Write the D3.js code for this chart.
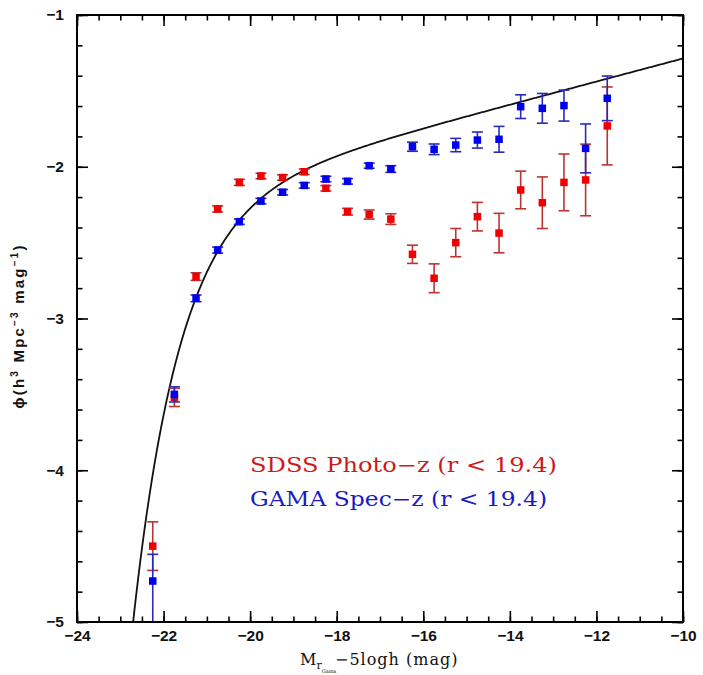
<!DOCTYPE html>
<html>
<head>
<meta charset="utf-8">
<script src="https://cdn.jsdelivr.net/npm/d3@7"></script>
<style>
  html, body { margin: 0; padding: 0; background: #fff; }
  svg { display: block; }
</style>
</head>
<body>
<svg id="chart" width="703" height="675"></svg>
<script>
// Absolute magnitude bin centres (mag)
const magBins = [-22.25, -21.75, -21.25, -20.75, -20.25, -19.75, -19.25, -18.75, -18.25, -17.75, -17.25,
                 -16.75, -16.25, -15.75, -15.25, -14.75, -14.25, -13.75, -13.25, -12.75, -12.25, -11.75];

// SDSS photometric-redshift luminosity function: log10 phi and 1-sigma errors (dex)
const sdssLogPhi = [-4.50, -3.52, -2.724, -2.278, -2.103, -2.061, -2.071, -2.033, -2.142, -2.296, -2.315,
                    -2.345, -2.577, -2.735, -2.500, -2.329, -2.437, -2.153, -2.237, -2.103, -2.087, -1.731];
const sdssErr    = [0.16, 0.06, 0.025, 0.02, 0.02, 0.018, 0.018, 0.018, 0.018, 0.022, 0.03,
                    0.035, 0.06, 0.095, 0.093, 0.094, 0.13, 0.124, 0.17, 0.187, 0.236, 0.257];

// GAMA spectroscopic luminosity function: log10 phi, upper and lower errors (dex)
const gamaLogPhi = [-4.73, -3.50, -2.867, -2.549, -2.362, -2.226, -2.168, -2.123, -2.081, -2.096, -1.993,
                    -2.015, -1.868, -1.885, -1.857, -1.824, -1.819, -1.604, -1.615, -1.597, -1.879, -1.549];
const gamaErrHi  = [0.176, 0.05, 0.022, 0.02, 0.018, 0.018, 0.018, 0.018, 0.018, 0.018, 0.017,
                    0.022, 0.03, 0.035, 0.044, 0.053, 0.085, 0.078, 0.098, 0.102, 0.161, 0.147];
const gamaErrLo  = [0.60, 0.05, 0.022, 0.02, 0.018, 0.018, 0.018, 0.018, 0.018, 0.018, 0.017,
                    0.022, 0.03, 0.035, 0.044, 0.053, 0.085, 0.078, 0.098, 0.102, 0.161, 0.147];

// Schechter function fit
const mStar = -20.7;
const alpha = -1.19;
const phiStar = 0.00863;

// Axis ticks
const xMajorTicks = [-24, -22, -20, -18, -16, -14, -12, -10];
const yMajorTicks = [-5, -4, -3, -2, -1];

const legendLabels = ["SDSS Photo\u2212z (r < 19.4)", "GAMA Spec\u2212z (r < 19.4)"];

const svg = d3.select("#chart");
const pLeft = 77, pRight = 683, pTop = 15, pBottom = 622;

const x = d3.scaleLinear().domain([-24, -10]).range([pLeft, pRight]);
const y = d3.scaleLinear().domain([-5, -1]).range([pBottom, pTop]);

const defs = svg.append("defs");
defs.append("clipPath").attr("id", "plotArea")
  .append("rect").attr("x", pLeft).attr("y", pTop)
  .attr("width", pRight - pLeft).attr("height", pBottom - pTop);

const plot = svg.append("g").attr("clip-path", "url(#plotArea)");

// Schechter curve, log10 phi(M)
function logSchechter(M) {
  const t = Math.pow(10, 0.4 * (mStar - M));
  return Math.log10(0.4 * Math.LN10 * phiStar * Math.pow(t, alpha + 1) * Math.exp(-t));
}
const curveMags = d3.range(-22.9, -9.99, 0.02);
plot.append("path")
  .datum(curveMags)
  .attr("fill", "none")
  .attr("stroke", "#111")
  .attr("stroke-width", 1.8)
  .attr("d", d3.line().x(m => x(m)).y(m => y(Math.max(logSchechter(m), -6))));

// Error bars + square markers
function drawSeries(vals, errHi, errLo, barColor, markColor) {
  const g = plot.append("g");
  const cap = 5.5, sq = 7.5;
  magBins.forEach((m, i) => {
    const cx = x(m);
    const yHi = y(vals[i] + errHi[i]);
    const yLo = y(vals[i] - errLo[i]);
    g.append("line").attr("x1", cx).attr("x2", cx).attr("y1", yHi).attr("y2", yLo)
      .attr("stroke", barColor).attr("stroke-width", 1.6);
    [yHi, yLo].forEach(yy => {
      g.append("line").attr("x1", cx - cap).attr("x2", cx + cap).attr("y1", yy).attr("y2", yy)
        .attr("stroke", barColor).attr("stroke-width", 1.6);
    });
    g.append("rect").attr("x", cx - sq / 2).attr("y", y(vals[i]) - sq / 2)
      .attr("width", sq).attr("height", sq).attr("fill", markColor);
  });
}
drawSeries(sdssLogPhi, sdssErr, sdssErr, "#bb3333", "#f00000");
drawSeries(gamaLogPhi, gamaErrHi, gamaErrLo, "#2a2ab8", "#0000f0");

// Axes with inward ticks on all four sides
const tickFont = "Liberation Sans, Arial, sans-serif";
const fmt = d3.format("d");

function styleAxis(g) {
  g.select(".domain").remove();
  g.selectAll(".tick line").attr("stroke", "#000").attr("stroke-width", 1.6);
  g.selectAll("text").attr("font-family", tickFont).attr("font-size", 15.5)
    .attr("font-weight", "bold").attr("fill", "#111");
}

const xMinor = d3.range(-24, -9.99, 0.5);
const yMinor = d3.range(-5, -0.99, 0.2).map(v => +v.toFixed(2));

svg.append("g").attr("transform", `translate(0,${pBottom})`)
  .call(d3.axisBottom(x).tickValues(xMinor).tickSize(-5.5).tickFormat("")).call(styleAxis);
svg.append("g").attr("transform", `translate(0,${pBottom})`)
  .call(d3.axisBottom(x).tickValues(xMajorTicks).tickSize(-11).tickPadding(8).tickFormat(fmt)).call(styleAxis);
svg.append("g").attr("transform", `translate(0,${pTop})`)
  .call(d3.axisTop(x).tickValues(xMinor).tickSize(-5.5).tickFormat("")).call(styleAxis);
svg.append("g").attr("transform", `translate(0,${pTop})`)
  .call(d3.axisTop(x).tickValues(xMajorTicks).tickSize(-11).tickFormat("")).call(styleAxis);

svg.append("g").attr("transform", `translate(${pLeft},0)`)
  .call(d3.axisLeft(y).tickValues(yMinor).tickSize(-5.5).tickFormat("")).call(styleAxis);
svg.append("g").attr("transform", `translate(${pLeft},0)`)
  .call(d3.axisLeft(y).tickValues(yMajorTicks).tickSize(-11).tickPadding(13).tickFormat(fmt)).call(styleAxis);
svg.append("g").attr("transform", `translate(${pRight},0)`)
  .call(d3.axisRight(y).tickValues(yMinor).tickSize(-5.5).tickFormat("")).call(styleAxis);
svg.append("g").attr("transform", `translate(${pRight},0)`)
  .call(d3.axisRight(y).tickValues(yMajorTicks).tickSize(-11).tickFormat("")).call(styleAxis);

// Frame
svg.append("rect").attr("x", pLeft).attr("y", pTop)
  .attr("width", pRight - pLeft).attr("height", pBottom - pTop)
  .attr("fill", "none").attr("stroke", "#000").attr("stroke-width", 2);

// Axis titles
const serif = "DejaVu Serif, Liberation Serif, serif";
const xt = svg.append("text").attr("x", 300).attr("y", 665)
  .attr("font-family", serif).attr("font-size", 16).attr("fill", "#111");
xt.append("tspan").text("M");
xt.append("tspan").attr("font-size", 11).attr("dy", 4).text("r");
xt.append("tspan").attr("font-size", 5).attr("dy", 4).text("Gama");
xt.append("tspan").attr("x", 335).attr("dy", -8).attr("letter-spacing", 1).text("\u22125logh (mag)");

const yt = svg.append("text")
  .attr("transform", "translate(24,326) rotate(-90)")
  .attr("text-anchor", "middle")
  .attr("font-family", tickFont).attr("font-size", 15).attr("font-weight", "bold")
  .attr("letter-spacing", 2.2).attr("fill", "#111");
yt.append("tspan").text("\u03d5(h");
yt.append("tspan").attr("font-size", 10).attr("dy", -6).text("3");
yt.append("tspan").attr("dy", 6).text(" Mpc");
yt.append("tspan").attr("font-size", 10).attr("dy", -6).text("\u22123");
yt.append("tspan").attr("dy", 6).text(" mag");
yt.append("tspan").attr("font-size", 10).attr("dy", -6).text("\u22121");
yt.append("tspan").attr("dy", 6).text(")");

// Legend
const legendColors = ["#cc1a1a", "#1a1ac4"];
const legendY = [472, 506];
const legendW = [307, 297];
legendLabels.forEach((t, i) => {
  svg.append("text").attr("x", 250).attr("y", legendY[i])
    .attr("font-family", serif).attr("font-size", 20)
    .attr("fill", legendColors[i])
    .attr("textLength", legendW[i]).attr("lengthAdjust", "spacingAndGlyphs")
    .text(t);
});
</script>
</body>
</html>
